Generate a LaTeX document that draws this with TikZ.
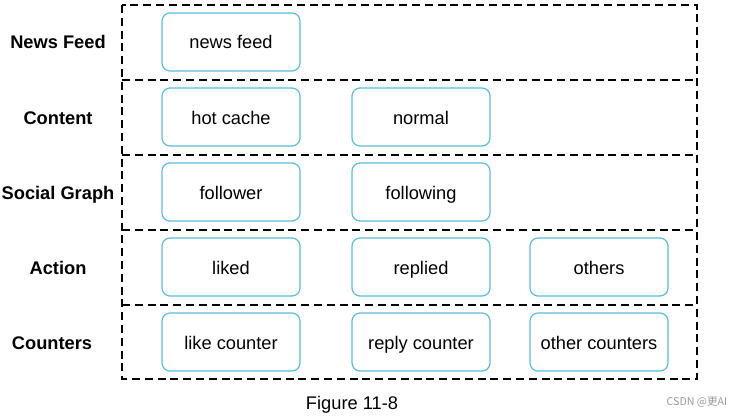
\documentclass[tikz,border=0pt]{standalone}
\usepackage{fontspec}
\setmainfont{Liberation Sans}
\newfontfamily\cjk{Noto Sans CJK SC}
\usepackage{xcolor}
\usetikzlibrary{positioning}
\definecolor{boxline}{RGB}{92,188,214}

\begin{document}
\begin{tikzpicture}[
      x=0.75pt, y=-0.75pt,
      font=\fontsize{13.7}{16}\selectfont,
      item/.style={draw=boxline, line width=0.9pt, rounded corners=6pt, minimum width=103.5pt, minimum height=43.5pt, text height=12pt, text depth=1.5pt, align=center},
      layer/.style={font=\fontsize{13.7}{16}\selectfont\bfseries, text height=12pt, text depth=1.5pt, align=center},
      sep/.style={dashed, line width=1.5pt, dash pattern=on 6pt off 3.6pt},
    ]
    \useasboundingbox (0,0) rectangle (741,417);

    % Layers
    \draw[sep] (122,5) rectangle (697,379);
    \draw[sep] (122,80) -- (697,80);
    \draw[sep] (122,155) -- (697,155);
    \draw[sep] (122,230) -- (697,230);
    \draw[sep] (122,305) -- (697,305);

    \node[layer] (lfeed) at (58,42) {News Feed};
    \node[layer] (lcontent) at (58,117) {Content};
    \node[layer] (lgraph) at (58,192) {Social Graph};
    \node[layer] (laction) at (58,267) {Action};
    \node[layer] (lcount) at (52,342) {Counters};

    % News feed
    \node[item] (feed) at (231,42) {news feed};

    % Content
    \node[item] (hot) at (231,117) {hot cache};
    \node[item] (normal) at (421,117) {normal};

    % Social graph
    \node[item] (follower) at (231,192) {follower};
    \node[item] (following) at (421,192) {following};

    % Action
    \node[item] (liked) at (231,267) {liked};
    \node[item] (replied) at (421,267) {replied};
    \node[item] (others) at (599,267) {others};

    % Counters
    \node[item] (likecnt) at (231,342) {like counter};
    \node[item] (replycnt) at (421,342) {reply counter};
    \node[item] (othercnt) at (599,342) {other counters};

    % Caption
    \node (caption) at (352,405) {Figure 11-8};
    \node[font=\cjk\fontsize{8}{9}\selectfont, text=black!40] (mark) at (697,402) {CSDN @更AI};
  \end{tikzpicture}
\end{document}
